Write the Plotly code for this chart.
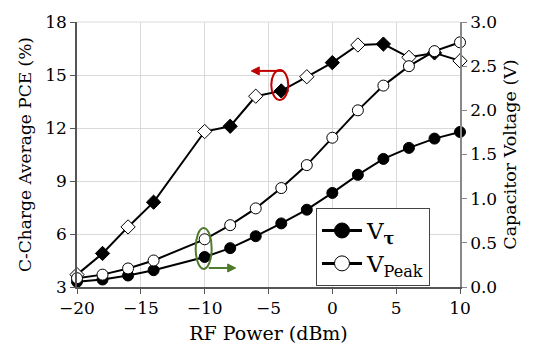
import plotly.graph_objects as go

# RF input power sweep (dBm)
rf_power = [-20, -18, -16, -14, -10, -8, -6, -4, -2, 0, 2, 4, 6, 8, 10]

# C-charge average power conversion efficiency (%)
pce = [3.7, 4.9, 6.4, 7.8, 11.8, 12.1, 13.8, 14.1, 14.9, 15.7, 16.7, 16.75, 16.0, 16.25, 15.8]
# diamond fill alternates along the sweep
pce_filled = [False, True, False, True, False, True, False, True, False, True, False, True, False, True, False]

# capacitor voltages (V)
v_peak = [0.10, 0.14, 0.21, 0.30, 0.54, 0.70, 0.89, 1.12, 1.38, 1.69, 2.00, 2.28, 2.50, 2.67, 2.77]
v_tau = [0.06, 0.085, 0.13, 0.19, 0.34, 0.44, 0.575, 0.72, 0.875, 1.065, 1.27, 1.45, 1.575, 1.68, 1.755]

x_ticks = [-20, -15, -10, -5, 0, 5, 10]
pce_ticks = [3, 6, 9, 12, 15, 18]
volt_ticks = [0.0, 0.5, 1.0, 1.5, 2.0, 2.5, 3.0]

FONT = "DejaVu Serif"
RED = "#c00000"
GREEN = "#4e7a2a"

fig = go.Figure()

fig.add_trace(go.Scatter(
    x=rf_power, y=pce, mode="lines+markers", yaxis="y", showlegend=False,
    line=dict(color="black", width=2), cliponaxis=False,
    marker=dict(symbol="diamond", size=11,
                color=["black" if f else "white" for f in pce_filled],
                line=dict(color="black", width=1)),
))
fig.add_trace(go.Scatter(
    x=rf_power, y=v_tau, mode="lines+markers", yaxis="y2", showlegend=False,
    line=dict(color="black", width=2), cliponaxis=False,
    marker=dict(symbol="circle", size=11, color="black", line=dict(color="black", width=1)),
))
fig.add_trace(go.Scatter(
    x=rf_power, y=v_peak, mode="lines+markers", yaxis="y2", showlegend=False,
    line=dict(color="black", width=2), cliponaxis=False,
    marker=dict(symbol="circle", size=11, color="white", line=dict(color="black", width=1)),
))

# legend entries with larger symbols
fig.add_trace(go.Scatter(
    x=[None], y=[None], mode="lines+markers", yaxis="y2", name="V<sub><b>τ</b></sub>",
    line=dict(color="black", width=3),
    marker=dict(symbol="circle", size=15, color="black", line=dict(color="black", width=1)),
))
fig.add_trace(go.Scatter(
    x=[None], y=[None], mode="lines+markers", yaxis="y2", name="V<sub>Peak</sub>",
    line=dict(color="black", width=3),
    marker=dict(symbol="circle", size=15, color="white", line=dict(color="black", width=1)),
))


def callout(fig, x, y, yref, ellipse, tail, tip, color):
    """Ellipse around a data point plus a horizontal arrow; offsets in pixels (y up)."""
    common = dict(xref="x", yref=yref, xsizemode="pixel", ysizemode="pixel",
                  xanchor=x, yanchor=y)
    ex0, ex1, ey0, ey1 = ellipse
    fig.add_shape(type="circle", x0=ex0, x1=ex1, y0=ey0, y1=ey1,
                  line=dict(color=color, width=2), **common)
    direction = 1 if tip[0] > tail[0] else -1
    head = 8
    fig.add_shape(type="line", x0=tail[0], y0=tail[1], x1=tip[0] - direction * head, y1=tip[1],
                  line=dict(color=color, width=2), **common)
    bx = tip[0] - direction * head
    path = f"M{tip[0]},{tip[1]} L{bx},{tip[1] + 4} L{bx},{tip[1] - 4} Z"
    fig.add_shape(type="path", path=path, fillcolor=color,
                  line=dict(color=color, width=1), **common)


# PCE curve belongs to the left axis
i_pce = rf_power.index(-4)
callout(fig, rf_power[i_pce], pce[i_pce], "y",
        ellipse=(-10, 7, -9, 21), tail=(2, 20), tip=(-30, 20), color=RED)

# voltage curves belong to the right axis
i_v = rf_power.index(-10)
callout(fig, rf_power[i_v], v_tau[i_v], "y2",
        ellipse=(-9, 7, -12, 29), tail=(4, -11), tip=(31, -11), color=GREEN)

fig.update_layout(
    width=535, height=362,
    margin=dict(l=77, r=75, t=12, b=75),
    paper_bgcolor="white", plot_bgcolor="white",
    font=dict(family=FONT, size=17, color="black"),
    xaxis=dict(
        range=[-20, 10], tickvals=x_ticks, ticks="outside", ticklen=5, tickcolor="#555",
        showline=True, linecolor="#555", linewidth=1.5, mirror=False,
        showgrid=True, gridcolor="#d9d9d9", gridwidth=1, zeroline=False,
        title=dict(text="RF Power (dBm)", font=dict(family=FONT, size=19), standoff=10),
        tickfont=dict(family=FONT, size=17),
    ),
    yaxis=dict(
        range=[3, 18], tickvals=pce_ticks, ticks="outside", ticklen=5, tickcolor="#555",
        showline=True, linecolor="#555", linewidth=1.5,
        showgrid=True, gridcolor="#d9d9d9", gridwidth=1, zeroline=False,
        title=dict(text="C-Charge Average PCE (%)", font=dict(family=FONT, size=17), standoff=9),
        tickfont=dict(family=FONT, size=17),
    ),
    yaxis2=dict(
        range=[0, 3], tickvals=volt_ticks, tickformat=".1f", overlaying="y", side="right",
        ticks="outside", ticklen=5, tickcolor="#888",
        showline=True, linecolor="#888", linewidth=1.5,
        showgrid=False, zeroline=False,
        title=dict(text="Capacitor Voltage (V)", font=dict(family=FONT, size=17.5), standoff=8),
        tickfont=dict(family=FONT, size=17),
    ),
    legend=dict(
        x=0.624, y=0.298, xanchor="left", yanchor="top",
        bgcolor="white", bordercolor="#444", borderwidth=1,
        font=dict(family=FONT, size=23), tracegroupgap=0,
        itemwidth=40,
    ),
    showlegend=True,
)

# light top border of the plotting area
fig.add_shape(type="line", xref="paper", yref="paper", x0=0, x1=1, y0=1, y1=1,
              line=dict(color="#d9d9d9", width=1))

fig.write_html("out.html")
